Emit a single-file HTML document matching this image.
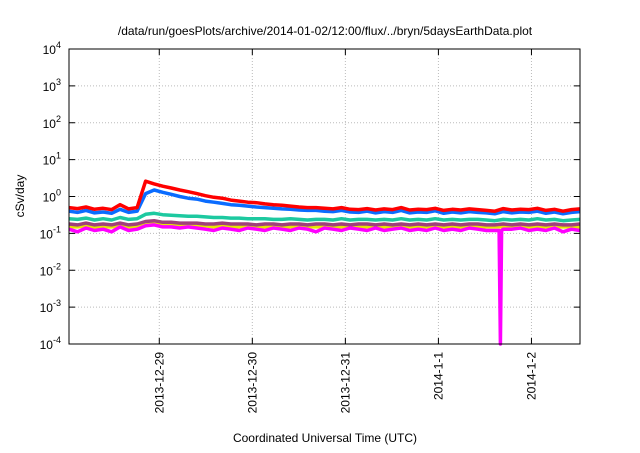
<!DOCTYPE html>
<html><head><meta charset="utf-8"><style>
body{margin:0;background:#fff;width:640px;height:448px;overflow:hidden;font-family:"Liberation Sans",sans-serif}
</style></head><body>
<svg id="chart" width="640" height="448" xmlns="http://www.w3.org/2000/svg" font-family="Liberation Sans, sans-serif">
<rect width="640" height="448" fill="#fff"/>
<text x="325" y="35" font-size="12" text-anchor="middle">/data/run/goesPlots/archive/2014-01-02/12:00/flux/../bryn/5daysEarthData.plot</text>
<g id="grid"></g>
<g id="series"></g>
<rect x="69" y="49" width="511" height="295" fill="none" stroke="#000" stroke-width="1"/>
<g id="axes"></g>
<text transform="translate(24,196) rotate(-90)" font-size="12" text-anchor="middle">cSv/day</text>
<text x="325" y="442" font-size="12" text-anchor="middle">Coordinated Universal Time (UTC)</text>
</svg>
<script>
const hours = [0,2,4,6,8,10,12,14,16,18,20,22,24,26,28,30,32,34,36,38,40,42,44,46,48,50,52,54,56,58,60,62,64,66,68,70,72,74,76,78,80,82,84,86,88,90,92,94,96,98,100,102,104,106,108,110,112,114,116,118,120];
const red = [0.5,0.47,0.52,0.45,0.48,0.44,0.6,0.46,0.5,2.6,2.2,1.9,1.7,1.5,1.35,1.2,1.05,0.95,0.9,0.8,0.75,0.7,0.68,0.63,0.6,0.58,0.55,0.52,0.5,0.5,0.48,0.46,0.5,0.45,0.44,0.47,0.43,0.46,0.44,0.5,0.43,0.45,0.44,0.48,0.42,0.45,0.43,0.46,0.44,0.42,0.4,0.47,0.43,0.45,0.44,0.48,0.42,0.45,0.4,0.44,0.46];
const blue = [0.4,0.37,0.42,0.36,0.38,0.35,0.45,0.37,0.4,1.2,1.5,1.3,1.15,1.0,0.9,0.85,0.75,0.7,0.65,0.6,0.58,0.55,0.52,0.5,0.48,0.46,0.45,0.43,0.42,0.42,0.4,0.39,0.42,0.38,0.37,0.4,0.36,0.39,0.37,0.42,0.36,0.38,0.37,0.41,0.35,0.38,0.36,0.39,0.37,0.36,0.34,0.39,0.36,0.38,0.37,0.4,0.35,0.38,0.34,0.37,0.39];
const green = [0.25,0.24,0.26,0.23,0.25,0.23,0.27,0.24,0.25,0.33,0.35,0.32,0.31,0.3,0.29,0.29,0.28,0.27,0.27,0.26,0.26,0.25,0.25,0.25,0.24,0.24,0.25,0.24,0.23,0.24,0.24,0.23,0.25,0.23,0.24,0.24,0.23,0.24,0.23,0.25,0.23,0.24,0.23,0.25,0.23,0.24,0.23,0.24,0.24,0.23,0.22,0.24,0.23,0.24,0.23,0.25,0.23,0.24,0.22,0.23,0.24];
const maroon = [0.18,0.17,0.19,0.17,0.18,0.17,0.19,0.17,0.18,0.21,0.22,0.2,0.2,0.19,0.19,0.19,0.18,0.18,0.19,0.18,0.18,0.18,0.17,0.18,0.18,0.17,0.18,0.18,0.17,0.18,0.18,0.17,0.18,0.17,0.18,0.18,0.17,0.18,0.17,0.18,0.17,0.18,0.17,0.18,0.17,0.18,0.17,0.18,0.18,0.17,0.17,0.18,0.17,0.18,0.17,0.18,0.17,0.18,0.17,0.17,0.18];
const yellow = [0.15,0.15,0.16,0.14,0.15,0.15,0.16,0.15,0.15,0.17,0.18,0.17,0.17,0.16,0.16,0.16,0.16,0.15,0.16,0.15,0.15,0.15,0.15,0.15,0.15,0.15,0.15,0.15,0.15,0.15,0.15,0.15,0.15,0.15,0.15,0.15,0.15,0.15,0.15,0.15,0.15,0.15,0.15,0.15,0.15,0.15,0.15,0.15,0.15,0.15,0.15,0.15,0.15,0.15,0.15,0.15,0.15,0.15,0.15,0.15,0.15];
const magentaHours = [0,2,4,6,8,10,12,14,16,18,20,22,24,26,28,30,32,34,36,38,40,42,44,46,48,50,52,54,56,58,60,62,64,66,68,70,72,74,76,78,80,82,84,86,88,90,92,94,96,98,100,101,101.3,101.6,102,104,106,108,110,112,114,116,118,120];
const magenta = [0.13,0.11,0.14,0.12,0.13,0.11,0.15,0.12,0.13,0.16,0.17,0.15,0.15,0.14,0.15,0.14,0.13,0.12,0.14,0.13,0.12,0.14,0.13,0.12,0.14,0.13,0.12,0.14,0.13,0.11,0.14,0.13,0.12,0.14,0.13,0.12,0.14,0.12,0.13,0.14,0.12,0.13,0.12,0.14,0.12,0.13,0.12,0.14,0.13,0.12,0.12,0.12,0.0001,0.12,0.13,0.13,0.14,0.12,0.13,0.12,0.14,0.11,0.13,0.12];
const yTickExp = [4,3,2,1,0,-1,-2,-3,-4];
const xTickHours = [21.2,43.05,64.9,86.75,108.6];
const xTickLabels = ["2013-12-29","2013-12-30","2013-12-31","2014-1-1","2014-1-2"];
const NS="http://www.w3.org/2000/svg";
const X0=69,X1=580,Y0=49,Y1=344,HMAX=120;
const xScale=h=>X0+h/HMAX*(X1-X0);
const yScale=v=>Y0+(4-Math.log10(v))*(Y1-Y0)/8;
function mk(tag,attrs,parent){const e=document.createElementNS(NS,tag);for(const k in attrs)e.setAttribute(k,attrs[k]);parent.appendChild(e);return e;}
const grid=document.getElementById('grid'),axes=document.getElementById('axes'),ser=document.getElementById('series');
yTickExp.forEach(e=>{
  const y=yScale(Math.pow(10,e));
  if(e<4&&e>-4){const l=mk('line',{x1:X0,x2:X1,y1:y,y2:y,stroke:'#bbb','stroke-dasharray':'1,2'},grid);
  
  }
  mk('line',{x1:X0,x2:X0+6,y1:y,y2:y,stroke:'#000'},axes);
  mk('line',{x1:X1,x2:X1-6,y1:y,y2:y,stroke:'#000'},axes);
  const t=mk('text',{x:X0-8,y:y+5,'font-size':12,'text-anchor':'end'},axes);
  
  
  t.innerHTML='10<tspan dy="-6" font-size="9">'+e+'</tspan>';
});
xTickLabels.forEach((lab,i)=>{
  const x=xScale(xTickHours[i]);
  const l=mk('line',{x1:x,x2:x,y1:Y0,y2:Y1,stroke:'#bbb','stroke-dasharray':'1,2'},grid);
  
  
  mk('line',{x1:x,x2:x,y1:Y1,y2:Y1-6,stroke:'#000'},axes);
  mk('line',{x1:x,x2:x,y1:Y0,y2:Y0+6,stroke:'#000'},axes);
  const t=mk('text',{transform:`translate(${x+4},352) rotate(-90)`,'font-size':12,'text-anchor':'end'},axes);
  
  
  t.textContent=lab;
});
const series=[[yellow,hours,'#e6e600','series-yellow'],[maroon,hours,'#a0407a','series-maroon'],[green,hours,'#1dc9a0','series-green'],[blue,hours,'#0a6cff','series-blue'],[red,hours,'#ff0000','series-red'],[magenta,magentaHours,'#ff00ff','series-magenta']];
series.forEach(([vals,hs,col,name])=>{
  const d=vals.map((v,i)=>(i?'L':'M')+xScale(hs[i]).toFixed(1)+','+yScale(v).toFixed(1)).join('');
  const p=mk('path',{d:d,fill:'none',stroke:col,'stroke-width':3.5,'stroke-linejoin':'round'},ser);
  
  
});
</script>
</body></html>
